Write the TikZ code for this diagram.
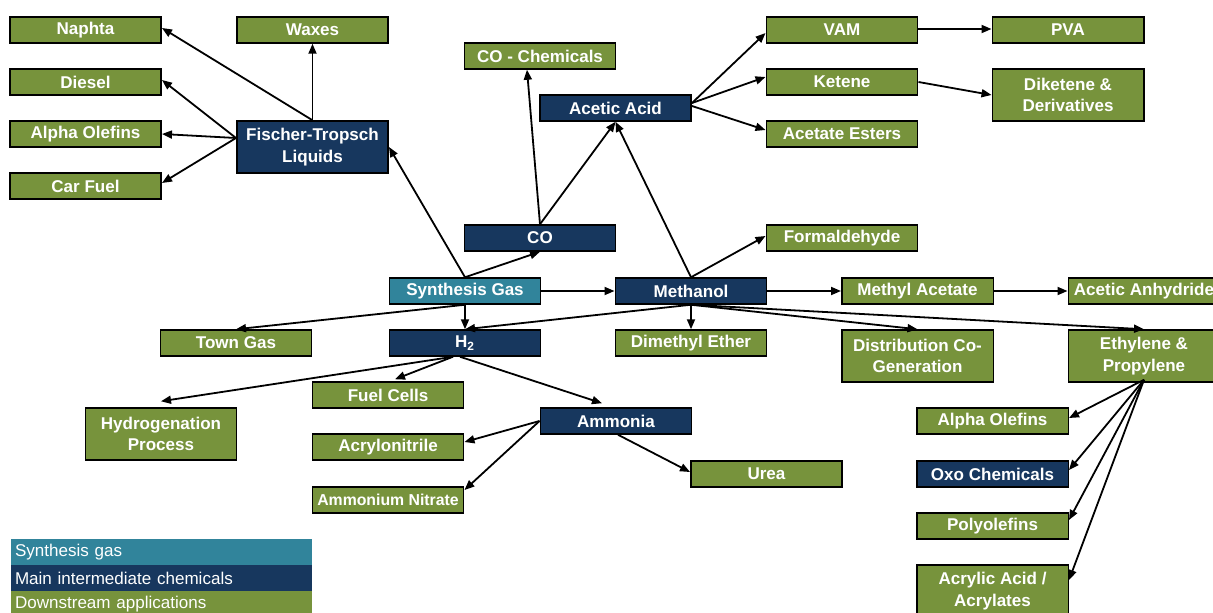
\documentclass[tikz,border=0pt]{standalone}
\usepackage{fontspec}
\setmainfont{Liberation Sans}
\usetikzlibrary{arrows.meta,calc}
\definecolor{grn}{HTML}{77933C}
\definecolor{nvy}{HTML}{17375E}
\definecolor{tel}{HTML}{31849B}
\tikzset{
  box/.style={draw=black, line width=0.3mm, text=white,
    font=\fontsize{9.7pt}{12.3pt}\selectfont\bfseries, align=center,
    inner sep=0pt, minimum width=30.3mm, minimum height=5.2mm},
  app/.style={box, fill=grn},
  mid/.style={box, fill=nvy},
  gas/.style={box, fill=tel},
  tall/.style={minimum height=10.4mm},
  conn/.style={line width=0.36mm, -{Triangle[length=2mm,width=1.6mm]}},
  legrow/.style={fill=#1, text=white, font=\fontsize{9.7pt}{12pt}\selectfont,
    minimum height=5.2mm, inner ysep=0pt, inner xsep=0.8mm,
    text width=58.6mm, align=left}
}
\begin{document}
\begin{tikzpicture}[x=0.02cm, y=-0.02cm]
\useasboundingbox (0,0) rectangle (1213,612);

% ---- left column
\node[app] (naphta) at (85.5,30) {Naphta};
\node[app] (diesel) at (85.5,82) {Diesel};
\node[app] (aolef) at (85.5,134) {Alpha Olefins};
\node[app] (carfuel) at (85.5,186) {Car Fuel};
\node[app] (waxes) at (312.5,30) {Waxes};
\node[mid, tall] (ft) at (312.5,147) {Fischer-Tropsch\\Liquids};

% ---- CO / acetic acid
\node[app] (cochem) at (540,56) {CO - Chemicals};
\node[mid] (aa) at (615.5,108) {Acetic Acid};
\node[mid] (co) at (540,238) {CO};
\node[app] (vam) at (842,30) {VAM};
\node[app] (ketene) at (842,82) {Ketene};
\node[app] (acest) at (842,134) {Acetate Esters};
\node[app] (pva) at (1068,30) {PVA};
\node[app, tall] (diket) at (1068,95) {Diketene \&\\Derivatives};
\node[app] (form) at (842,238) {Formaldehyde};

% ---- middle row
\node[gas] (syn) at (465,291) {Synthesis Gas};
\node[mid] (meth) at (691,291) {Methanol};
\node[app] (macet) at (917.5,291) {Methyl Acetate};
\node[app] (anh) at (1144,291) {Acetic Anhydride};

\node[app] (town) at (236,343) {Town Gas};
\node[mid] (h2) at (465,343) {H\textsubscript{2}};
\node[app] (dme) at (691,343) {Dimethyl Ether};
\node[app, tall] (dist) at (917.5,356) {Distribution Co-\\Generation};
\node[app, tall] (eth) at (1144,356) {Ethylene \&\\Propylene};

% ---- lower part
\node[app] (fuel) at (388,395) {Fuel Cells};
\node[app, tall] (hydro) at (161,434) {Hydrogenation\\Process};
\node[mid] (amm) at (616,421) {Ammonia};
\node[app] (acryl) at (388,447) {Acrylonitrile};
\node[app, font=\fontsize{9pt}{11pt}\selectfont\bfseries] (amn) at (388,500) {Ammonium Nitrate};
\node[app] (urea) at (766.5,474) {Urea};

\node[app] (raol) at (992.5,421) {Alpha Olefins};
\node[mid] (oxo) at (992.5,474) {Oxo Chemicals};
\node[app] (poly) at (992.5,526) {Polyolefins};
\node[app, tall] (acry) at (992.5,591) {Acrylic Acid /\\Acrylates};

% ---- legend
\node[legrow=tel] (lg1) at (161.5,552) {Synthesis gas};
\node[legrow=nvy] (lg2) at (161.5,578) {Main intermediate chemicals};
\node[legrow=grn] (lg3) at (161.5,604) {Downstream applications};

% ---- helper coordinates
\coordinate (ftw) at ([yshift=1.8mm]ft.west);
\coordinate (h2s) at ([xshift=-2.4mm]h2.south);

% ---- connectors
\draw[conn] (syn.north) -- (ft.east);
\draw[conn] (syn.north) -- (co.south);
\draw[conn] (syn.east) -- (meth.west);
\draw[conn] (syn.south) -- (h2.north);
\draw[conn] (syn.south) -- (town.north);

\draw[conn] (meth.south) -- (h2.north);
\draw[conn] (meth.south) -- (dme.north);
\draw[conn] (meth.south) -- (dist.north);
\draw[conn] (meth.south) -- (eth.north);
\draw[conn] (meth.east) -- (macet.west);
\draw[conn] (macet.east) -- (anh.west);
\draw[conn] (meth.north) -- ([yshift=0.4mm]form.west);
\draw[conn] (meth.north) -- (aa.south);

\draw[conn] (co.north) -- (aa.south);
\draw[conn] (co.north) -- ([xshift=-2.6mm]cochem.south);

\draw[conn] ([yshift=1mm]aa.east) -- ([yshift=-0.6mm]vam.west);
\draw[conn] ([yshift=1mm]aa.east) -- ([yshift=1mm]ketene.west);
\draw[conn] ([yshift=0.4mm]aa.east) -- ([yshift=0.8mm]acest.west);
\draw[conn] ([yshift=0.2mm]vam.east) -- ([yshift=0.2mm]pva.west);
\draw[conn] (ketene.east) -- (diket.west);

\draw[conn] (ft.north) -- ([yshift=0.4mm]naphta.east);
\draw[conn] (ft.north) -- (waxes.south);
\draw[conn] (ftw) -- ([yshift=0.4mm]diesel.east);
\draw[conn] (ftw) -- (aolef.east);
\draw[conn] (ftw) -- ([yshift=0.6mm]carfuel.east);

\draw[conn] (h2s) -- ([yshift=1.2mm]hydro.north);
\draw[conn] (h2s) -- ([xshift=1.4mm,yshift=0.4mm]fuel.north);
\draw[conn] ([xshift=-1mm]h2.south) -- ([xshift=-2.8mm,yshift=0.8mm]amm.north);

\draw[conn] (amm.west) -- ([yshift=1mm]acryl.east);
\draw[conn] (amm.west) -- ([yshift=2mm]amn.east);
\draw[conn] ([xshift=0.4mm]amm.south) -- ([yshift=0.4mm]urea.west);

\draw[conn] ([yshift=0.6mm]eth.south) -- ([yshift=0.6mm]raol.east);
\draw[conn] ([yshift=0.6mm]eth.south) -- ([yshift=0.8mm]oxo.east);
\draw[conn] ([yshift=0.6mm]eth.south) -- ([yshift=1.2mm]poly.east);
\draw[conn] ([yshift=0.6mm]eth.south) -- ([yshift=2.2mm]acry.east);
\end{tikzpicture}
\end{document}
